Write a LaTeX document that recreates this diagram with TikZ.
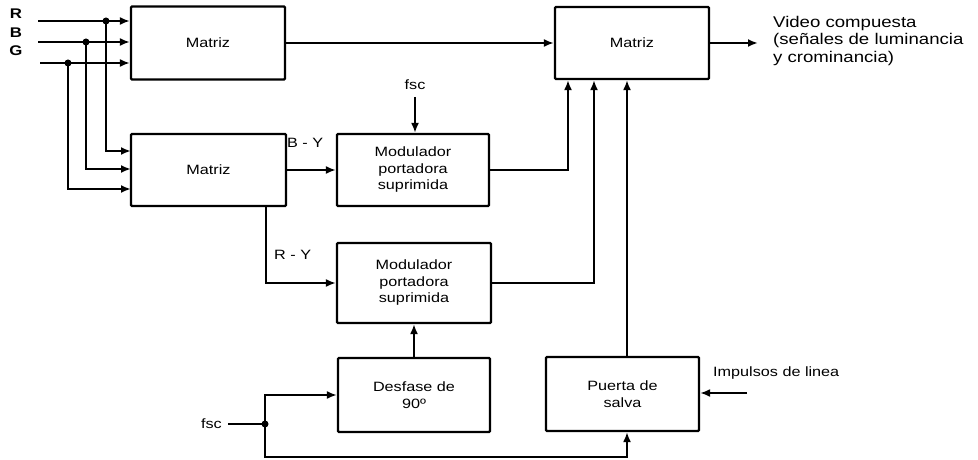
\documentclass[tikz,border=0pt]{standalone}
\usepackage{fontspec}
\setmainfont{Liberation Sans}[FakeStretch=1.2]
\usetikzlibrary{arrows.meta,calc}
\begin{document}
\begin{tikzpicture}[x=1pt,y=-1pt,
  blk/.style={draw,line width=2.2pt,rounded corners=1pt,inner sep=0pt,align=center,
    font=\fontsize{13.5}{16.5}\selectfont},
  wire/.style={line width=2.2pt},
  arr/.style={wire,-{Latex[length=10pt,width=8pt]}},
  lbl/.style={inner sep=0pt,font=\fontsize{13.5}{16.5}\selectfont},
  dotj/.style={circle,fill,inner sep=0pt,minimum size=7pt}]
\useasboundingbox (0,0) rectangle (978,460);

% blocks
\node[blk,minimum width=154pt,minimum height=73pt] (M1) at (208,43) {Matriz};
\node[blk,minimum width=155pt,minimum height=72pt] (M2) at (208.5,170) {Matriz};
\node[blk,minimum width=152pt,minimum height=72pt] (Mod1) at (413,170) {Modulador\\portadora\\suprimida};
\node[blk,minimum width=154pt,minimum height=80pt] (Mod2) at (414,283) {Modulador\\portadora\\suprimida};
\node[blk,minimum width=154pt,minimum height=72pt] (M3) at (632,43) {Matriz};
\node[blk,minimum width=152pt,minimum height=74pt] (Des) at (414,395) {Desfase de\\90º};
\node[blk,minimum width=153pt,minimum height=74pt] (Pue) at (622.5,394) {Puerta de\\salva};

% input labels
\node[lbl,font=\fontsize{14}{16}\selectfont\bfseries] (lR) at (16,14) {R};
\node[lbl,font=\fontsize{14}{16}\selectfont\bfseries] (lB) at (16,33) {B};
\node[lbl,font=\fontsize{14}{16}\selectfont\bfseries] (lG) at (16,51) {G};

\coordinate (inR) at (38,21);
\coordinate (inB) at (38,42);
\coordinate (inG) at (40,63);
\node[dotj] (jR) at (106,21) {};
\node[dotj] (jB) at (86,42) {};
\node[dotj] (jG) at (68,63) {};

\draw[arr] (inR) -- (inR -| M1.west);
\draw[arr] (inB) -- (inB -| M1.west);
\draw[arr] (inG) -- (inG -| M1.west);

\coordinate (m2r) at (131,151);
\coordinate (m2b) at (131,169);
\coordinate (m2g) at (131,189);
\draw[arr] (jR.center) |- (m2r);
\draw[arr] (jB.center) |- (m2b);
\draw[arr] (jG.center) |- (m2g);

% Matriz1 -> Matriz3 -> output
\draw[arr] (M1.east) -- (M3.west);
\coordinate (out) at (758,43);
\draw[arr] (M3.east) -- (out);
\node[anchor=north west,inner sep=0pt,align=left,font=\fontsize{15.5}{17.5}\selectfont] (vid) at (773,16)
  {Video compuesta\\(señales de luminancia\\y crominancia)};

% B-Y
\draw[arr] (M2.east |- Mod1.west) -- (Mod1.west);
\node[lbl,anchor=west] (lBY) at (287,143) {B\,\,-\,\,Y};

% fsc top
\node[lbl] (fsc1) at (415,85) {fsc};
\coordinate (fsc1a) at (415,97);
\draw[arr] (fsc1a) -- (fsc1a |- Mod1.north);

% R-Y
\coordinate (ry) at (266,205);
\draw[arr] (M2.south -| ry) |- (Mod2.west);
\node[lbl,anchor=west] (lRY) at (274,255) {R - Y};

% modulators to Matriz3
\coordinate (c1) at (568,0);
\coordinate (c2) at (594,0);
\coordinate (c3) at (627,0);
\draw[arr] (Mod1.east) -| (c1 |- M3.south);
\draw[arr] (Mod2.east) -| (c2 |- M3.south);
\draw[arr] (c3 |- Pue.north) -- (c3 |- M3.south);

% Desfase -> Mod2
\draw[arr] (Des.north -| Mod2.south) -- (Mod2.south);

% fsc bottom
\node[lbl,anchor=east] (fsc2) at (222,424) {fsc};
\coordinate (fsc2a) at (228,424);
\node[dotj] (j2) at (265,424) {};
\draw[wire] (fsc2a) -- (j2.center);
\draw[arr] (j2.center) |- (Des.west);
\coordinate (bot) at (265,457);
\draw[arr] (j2.center) -- (bot) -| (c3 |- Pue.south);

% Impulsos
\coordinate (imp) at (747,393);
\draw[arr] (imp) -- (imp -| Pue.east);
\node[lbl,anchor=west] (limp) at (713,373) {Impulsos de linea};
\end{tikzpicture}
\end{document}
